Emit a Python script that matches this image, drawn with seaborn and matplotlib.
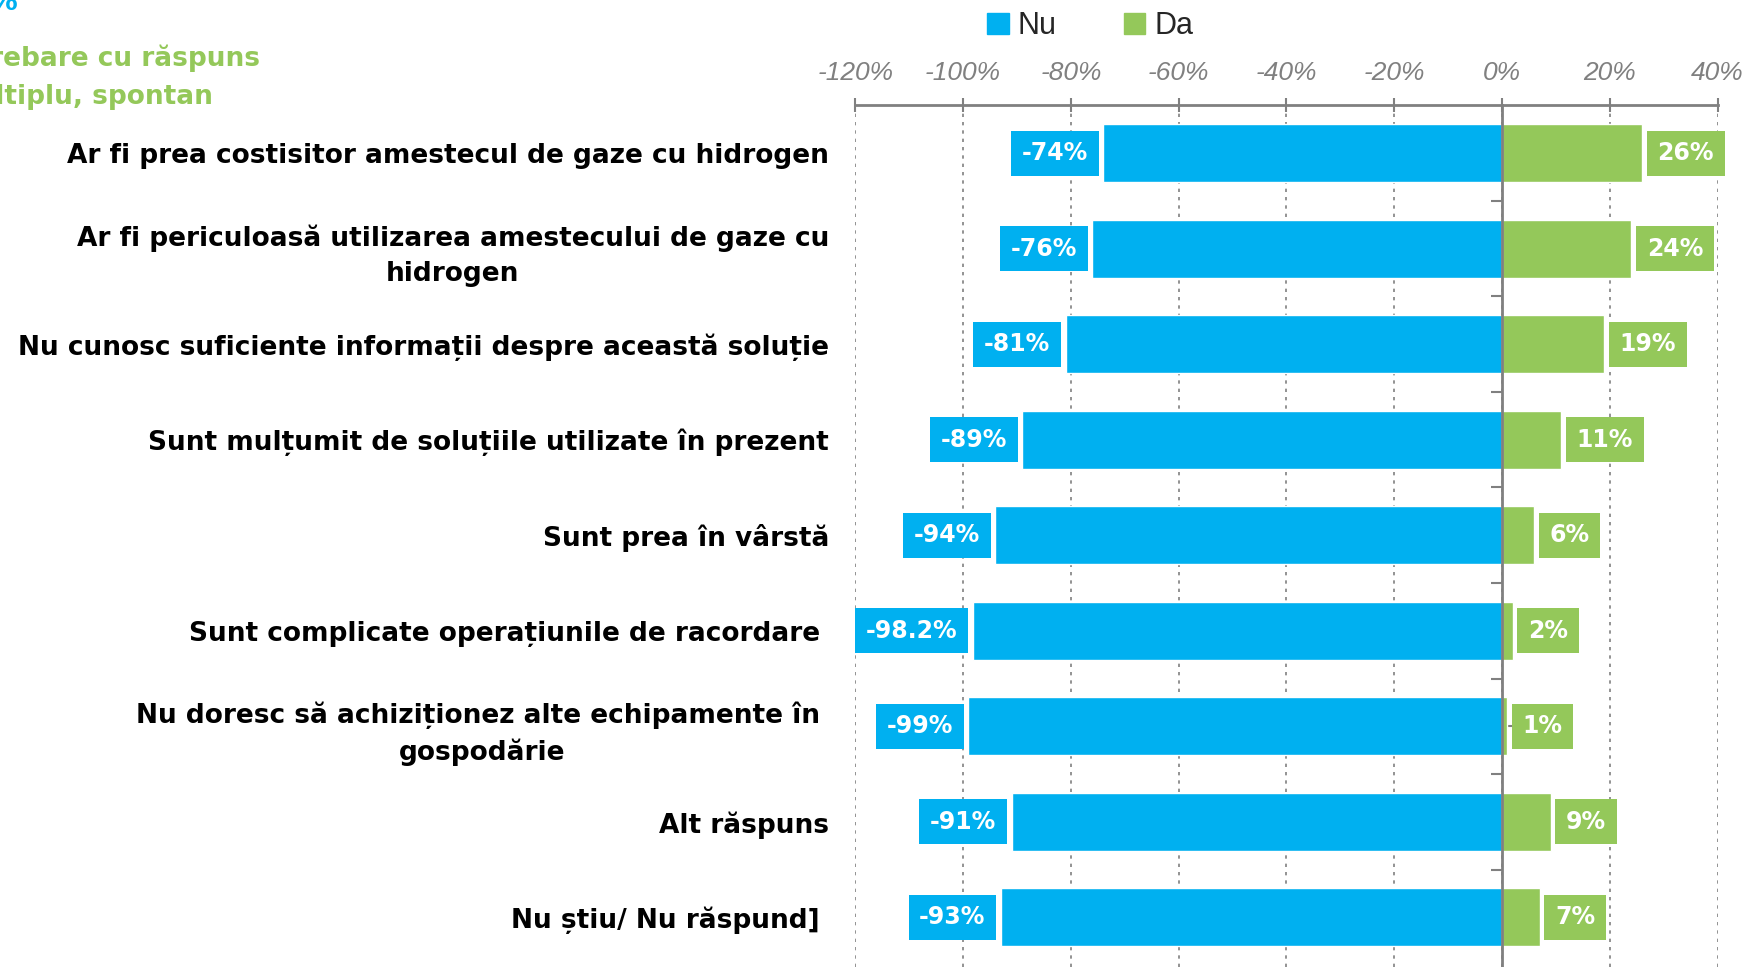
import matplotlib
matplotlib.use("Agg")
import matplotlib.pyplot as plt
import seaborn as sns
import pandas as pd
from matplotlib.ticker import FuncFormatter, MultipleLocator
from matplotlib.patches import Patch

# === DATA ===
categories = [
    "Ar fi prea costisitor amestecul de gaze cu hidrogen",
    "Ar fi periculoasă utilizarea amestecului de gaze cu\nhidrogen",
    "Nu cunosc suficiente informații despre această soluție",
    "Sunt mulțumit de soluțiile utilizate în prezent",
    "Sunt prea în vârstă",
    "Sunt complicate operațiunile de racordare ",
    "Nu doresc să achiziționez alte echipamente în \ngospodărie",
    "Alt răspuns",
    "Nu știu/ Nu răspund] ",
]
nu_values = [-74, -76, -81, -89, -94, -98.2, -99, -91, -93]
da_values = [26, 24, 19, 11, 6, 2, 1, 9, 7]
series_names = ["Nu", "Da"]

BLUE = "#00B0F0"
GREEN = "#94C85A"
GREY = "#808080"
NARROW = ["Liberation Sans Narrow", "Liberation Sans", "DejaVu Sans"]

sns.set_theme(style="white")
plt.rcParams["font.family"] = ["DejaVu Sans"]

df = pd.DataFrame({"cat": categories, "Nu": nu_values, "Da": da_values})

fig = plt.figure(figsize=(17.42, 9.67), dpi=100)
ax = fig.add_axes([0.491, 0.0, 0.495, 0.891])

sns.barplot(data=df, x="Nu", y="cat", color=BLUE, width=0.61, ax=ax,
            orient="h", saturation=1)
sns.barplot(data=df, x="Da", y="cat", color=GREEN, width=0.61, ax=ax,
            orient="h", saturation=1)

ax.set_xlim(-120, 40)
ax.set_ylim(8.52, -0.5)
ax.set_xlabel("")
ax.set_ylabel("")

# === Data labels in coloured boxes ===
lab_font = dict(color="white", fontsize=17, fontweight="bold")
for cont, col in zip(ax.containers, [BLUE, GREEN]):
    labels = [f"{v:g}%" for v in cont.datavalues]
    ax.bar_label(cont, labels=labels, padding=11, **lab_font,
                 bbox=dict(boxstyle="square,pad=0.45", fc=col, ec="none"))

# === x axis on top ===
ax.xaxis.set_ticks_position("top")
ax.xaxis.set_major_locator(MultipleLocator(20))
ax.xaxis.set_major_formatter(FuncFormatter(lambda v, p: f"{v:.0f}%"))
ax.tick_params(axis="x", which="major", direction="inout", length=10,
               color=GREY, width=1.5, pad=10, labelsize=19,
               labelcolor=GREY)
for t in ax.get_xticklabels():
    t.set_fontstyle("italic")
    t.set_family(NARROW)
ax.xaxis.grid(True, linestyle=(0, (2, 3)), color=GREY, linewidth=1.2)
ax.set_axisbelow(True)

# === spines: top solid, zero line via right spine ===
for s in ["left", "bottom"]:
    ax.spines[s].set_visible(False)
ax.spines["top"].set_color(GREY)
ax.spines["top"].set_linewidth(2)
ax.spines["right"].set_position(("data", 0))
ax.spines["right"].set_color(GREY)
ax.spines["right"].set_linewidth(2)
ax.spines["right"].set_zorder(3)

# category ticks on the zero line
ax.yaxis.set_ticks_position("right")
ax.set_yticks(range(len(categories)), minor=False)
ax.set_yticks([i + 0.5 for i in range(len(categories) - 1)], minor=True)
ax.tick_params(axis="y", which="major", direction="out", length=8,
               color=GREY, width=1.5, right=True, left=False,
               labelleft=True, labelright=False, pad=11, labelsize=19)
ax.tick_params(axis="y", which="minor", direction="in", length=8,
               color=GREY, width=1.5, right=True, left=False)
for t in ax.get_yticklabels():
    t.set_fontweight("bold")
    t.set_color("black")
    t.set_multialignment("center")
    t.set_linespacing(1.45)

# === legend ===
handles = [Patch(color=BLUE, label=series_names[0]),
           Patch(color=GREEN, label=series_names[1])]
fig.legend(handles=handles, loc="center", bbox_to_anchor=(0.626, 0.973),
           ncol=2, frameon=False, handlelength=0.7, handleheight=0.7,
           handletextpad=0.3, columnspacing=2.2,
           prop={"family": NARROW, "size": 22})

# === top-left notes (cut off in the original) ===
fig.text(-0.006, 1.012, "%", color=BLUE, fontsize=20, fontweight="bold",
         ha="left", va="top")
fig.text(-0.029, 0.958, "Întrebare cu răspuns\nmultiplu, spontan", color=GREEN,
         fontsize=19, fontweight="bold", ha="left", va="top", linespacing=1.6)

fig.savefig("out.png", dpi=100)
